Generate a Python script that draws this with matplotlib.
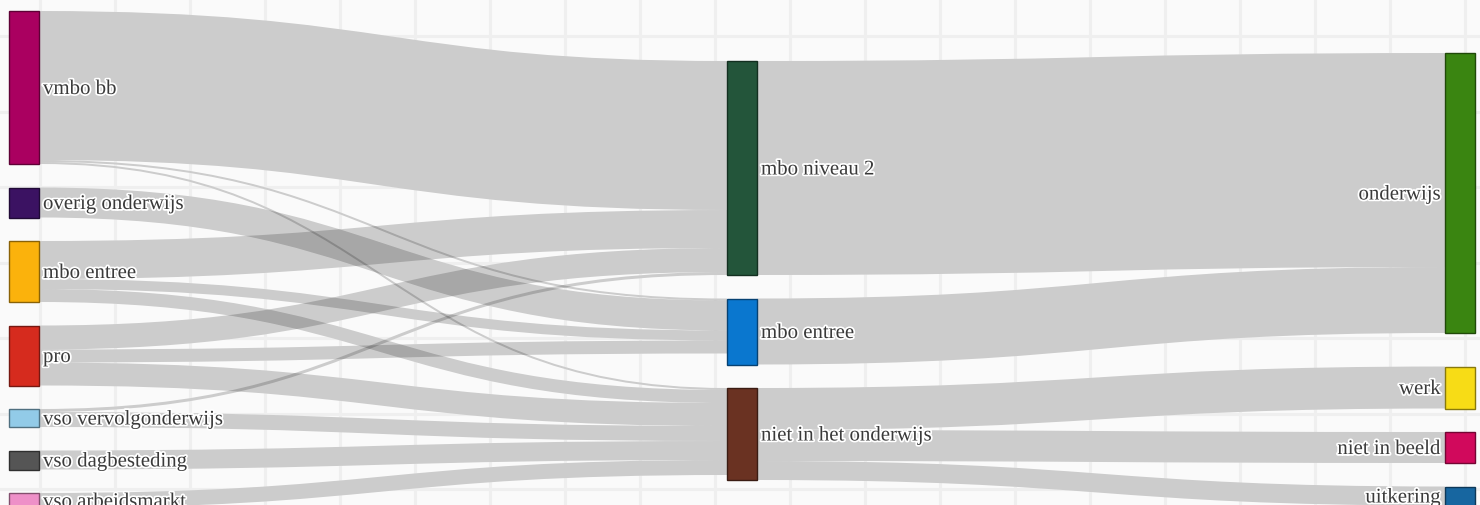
import numpy as np
import matplotlib.pyplot as plt
from matplotlib.path import Path
from matplotlib.patches import PathPatch, Rectangle
import matplotlib.patheffects as pe

# knopen per kolom
kolom_namen = [
    ['vmbo bb', 'overig onderwijs', 'mbo entree', 'pro',
     'vso vervolgonderwijs', 'vso dagbesteding', 'vso arbeidsmarkt'],
    ['mbo niveau 2', 'mbo entree', 'niet in het onderwijs'],
    ['onderwijs', 'werk', 'niet in beeld', 'uitkering'],
]
kolom_kleuren = [
    ['#aa0060', '#3b1262', '#fbb20c', '#d62b1e', '#92cbe8', '#555555', '#ee90c8'],
    ['#23553a', '#0a77cf', '#6a3222'],
    ['#3a8511', '#f7dc16', '#d1095c', '#1766a0'],
]

# stromen van kolom 0 naar kolom 1
stap1_bron = [0, 0, 0, 1, 2, 2, 2, 3, 3, 3, 4, 4, 5, 6]
stap1_doel = [0, 1, 2, 1, 0, 1, 2, 0, 1, 2, 0, 2, 2, 2]
stap1_waarde = [149, 2, 2, 30, 38, 10, 13, 24, 13, 23, 3, 15, 19, 15]

# stromen van kolom 1 naar kolom 2
stap2_bron = [0, 1, 2, 2, 2]
stap2_doel = [0, 0, 1, 2, 3]
stap2_waarde = [214, 66, 42, 31, 19]

# opmaak
W, H = 1480, 506
kolom_x = [9, 727, 1445]
kolom_top = [12, 62, 54]
extra_ruimte = {(2, 1): 10}
knoop_breedte = 30
tussenruimte = 23.5
achtergrond = '#fafafa'

links = []
for b, d, v in zip(stap1_bron, stap1_doel, stap1_waarde):
    links.append({'bron': (0, b), 'doel': (1, d), 'v': v})
for b, d, v in zip(stap2_bron, stap2_doel, stap2_waarde):
    links.append({'bron': (1, b), 'doel': (2, d), 'v': v})

# waarde van een knoop = max(in, uit)
knopen = {}
for k, namen in enumerate(kolom_namen):
    y = kolom_top[k]
    for i, naam in enumerate(namen):
        v_in = sum(l['v'] for l in links if l['doel'] == (k, i))
        v_uit = sum(l['v'] for l in links if l['bron'] == (k, i))
        v = max(v_in, v_uit)
        y += extra_ruimte.get((k, i), 0)
        knopen[(k, i)] = {'naam': naam, 'kleur': kolom_kleuren[k][i],
                          'x': kolom_x[k], 'y': y, 'dy': v}
        y += v + tussenruimte

# positie van de stromen binnen de knopen
for key, kn in knopen.items():
    uit = sorted([l for l in links if l['bron'] == key], key=lambda l: knopen[l['doel']]['y'])
    sy = kn['y']
    for l in uit:
        l['sy'] = sy
        sy += l['v']
    inn = sorted([l for l in links if l['doel'] == key], key=lambda l: knopen[l['bron']]['y'])
    ty = kn['y']
    for l in inn:
        l['ty'] = ty
        ty += l['v']

fig = plt.figure(figsize=(W / 100, H / 100), dpi=100)
fig.patch.set_facecolor(achtergrond)
ax = fig.add_axes([0, 0, 1, 1])
ax.set_facecolor(achtergrond)
ax.set_xlim(0, W)
ax.set_ylim(H, 0)

# ruitjes op de achtergrond
ax.set_xticks(np.arange(40, W, 75))
ax.set_yticks(np.arange(37, H, 75.5))
ax.grid(color='#efefef', linewidth=2.2)
ax.tick_params(length=0, labelbottom=False, labelleft=False)
for s in ax.spines.values():
    s.set_visible(False)
ax.set_axisbelow(True)

px = 72 / 100  # punten per pixel

for l in links:
    x0 = knopen[l['bron']]['x'] + knoop_breedte
    x1 = knopen[l['doel']]['x']
    y0 = l['sy'] + l['v'] / 2
    y1 = l['ty'] + l['v'] / 2
    xm = (x0 + x1) / 2
    pad = Path([(x0, y0), (xm, y0), (xm, y1), (x1, y1)],
               [Path.MOVETO, Path.CURVE4, Path.CURVE4, Path.CURVE4])
    # eerst dekkend, zodat de ruitjes niet door de stroom heen schijnen
    ax.add_patch(PathPatch(pad, fill=False, edgecolor=achtergrond,
                           linewidth=l['v'] * px, capstyle='butt', zorder=1.5))
    ax.add_patch(PathPatch(pad, fill=False, edgecolor='black', alpha=0.18,
                           linewidth=l['v'] * px, capstyle='butt', zorder=2))

halo = [pe.withStroke(linewidth=2.5, foreground='white')]
for (k, i), kn in knopen.items():
    rand = tuple(c * 0.55 for c in plt.matplotlib.colors.to_rgb(kn['kleur']))
    ax.add_patch(Rectangle((kn['x'], kn['y']), knoop_breedte, kn['dy'],
                           facecolor=kn['kleur'], edgecolor=rand, linewidth=1, zorder=3))
    ym = kn['y'] + kn['dy'] / 2 + 2
    if k < 2:
        ax.text(kn['x'] + knoop_breedte + 4, ym, kn['naam'], ha='left', va='center',
                fontsize=15, family='Liberation Serif', color='#3a3a3a',
                path_effects=halo, zorder=4)
    else:
        ax.text(kn['x'] - 4, ym, kn['naam'], ha='right', va='center',
                fontsize=15, family='Liberation Serif', color='#3a3a3a',
                path_effects=halo, zorder=4)

plt.savefig('out.png', dpi=100, facecolor=fig.get_facecolor())
